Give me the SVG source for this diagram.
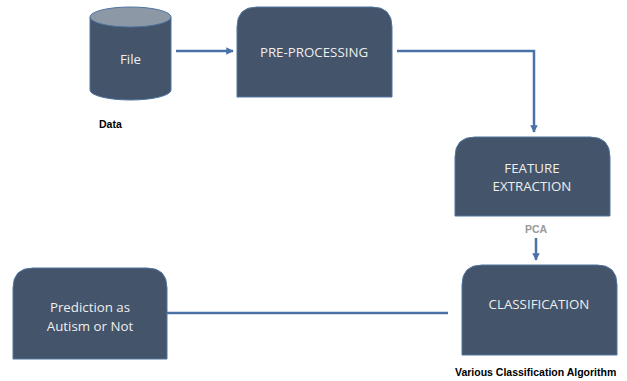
<svg xmlns="http://www.w3.org/2000/svg" width="627" height="381" viewBox="0 0 627 381">
<defs>
<style>
.box{fill:#44546A;stroke:#4E74A0;stroke-width:1}
.lbl{font-family:"Open Sans","Liberation Sans",sans-serif;font-size:13.3px;fill:#EEEEEE;text-anchor:middle}
.conn{stroke:#4A72A6;stroke-width:2.5;fill:none}
.note{font-family:"Liberation Sans",Arial,sans-serif;font-size:10.5px;font-weight:bold}
</style>
<marker id="ah" viewBox="0 0 10 10" refX="9" refY="5" markerWidth="3" markerHeight="3" orient="auto" markerUnits="strokeWidth">
<path d="M0,0 L10,5 L0,10 z" fill="#4A72A6"/>
</marker>
</defs>
<rect width="627" height="381" fill="#FFFFFF"/>
<g id="connectors">
<line class="conn" x1="176" y1="51" x2="233" y2="51" marker-end="url(#ah)"/>
<polyline class="conn" points="397,51 534,51 534,132" marker-end="url(#ah)"/>
<line class="conn" x1="536" y1="238" x2="536" y2="260" marker-end="url(#ah)"/>
<line class="conn" x1="167" y1="313" x2="448" y2="313"/>
</g>
<g id="file">
<path d="M90,17 L90,90 A40.5,10 0 0 0 171,90 L171,17 Z" fill="#44546A" stroke="#4E74A0" stroke-width="1"/>
<ellipse cx="130.5" cy="17" rx="40.5" ry="10" fill="#8D98A7" stroke="#4E74A0" stroke-width="1"/>
<text class="lbl" x="130.5" y="64">File</text>
</g>
<g id="data-label"><text class="note" x="99" y="128" fill="#000000">Data</text></g>
<g id="preprocessing">
<path class="box" d="M237,97 L237,27 Q237,7 257,7 L372,7 Q392,7 392,27 L392,97 Z"/>
<text class="lbl" x="314" y="57">PRE-PROCESSING</text>
</g>
<g id="feature-extraction">
<path class="box" d="M455,216 L455,157 Q455,137 475,137 L590,137 Q610,137 610,157 L610,216 Z"/>
<text class="lbl" x="532" y="173">FEATURE</text>
<text class="lbl" x="532" y="191">EXTRACTION</text>
</g>
<g id="pca-label"><text class="note" x="536" y="233" fill="#999999" text-anchor="middle">PCA</text></g>
<g id="classification">
<path class="box" d="M462,355 L462,285 Q462,265 482,265 L597,265 Q617,265 617,285 L617,355 Z"/>
<text class="lbl" x="539" y="309">CLASSIFICATION</text>
</g>
<g id="algo-label"><text class="note" x="455" y="376" fill="#000000">Various Classification Algorithm</text></g>
<g id="prediction">
<path class="box" d="M13,359 L13,288 Q13,268 33,268 L147,268 Q167,268 167,288 L167,359 Z"/>
<text class="lbl" x="90" y="312">Prediction as</text>
<text class="lbl" x="90" y="331">Autism or Not</text>
</g>
</svg>
